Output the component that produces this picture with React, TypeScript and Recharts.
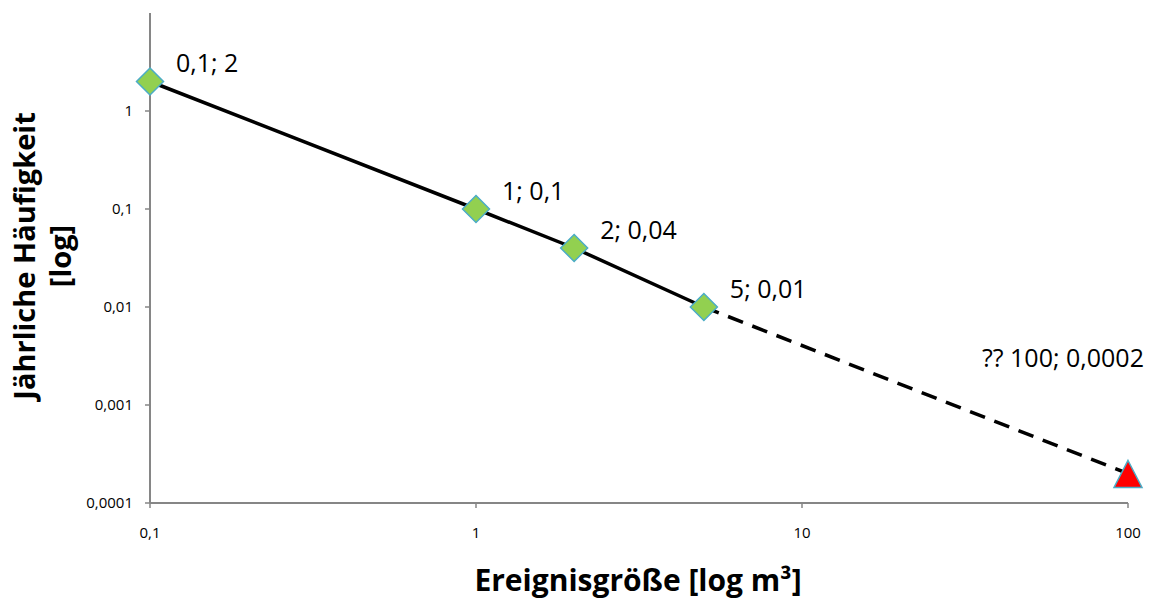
import { Label, Scatter, ScatterChart, XAxis, YAxis } from "recharts";

// Ereignisgröße [m³] vs. jährliche Häufigkeit
const sizes = [0.1, 1, 2, 5];
const freqs = [2, 0.1, 0.04, 0.01];
const trendSizes = [5, 100];
const trendFreqs = [0.01, 0.0002];
const xTicks = [0.1, 1, 10, 100];
const yTicks = [0.0001, 0.001, 0.01, 0.1, 1];

const FONT = "'Open Sans', sans-serif";
const AXIS = "#868686";

const de = (v: number) => String(v).replace(".", ",");

const known = sizes.map((x, i) => ({ x, y: freqs[i] }));
const trend = trendSizes.map((x, i) => ({ x, y: trendFreqs[i], estimate: i === trendSizes.length - 1 }));

const Diamond = (props: any) => {
  const { cx, cy, payload } = props;
  const r = 13.5;
  return (
    <g>
      <polygon
        points={`${cx},${cy - r} ${cx + r},${cy} ${cx},${cy + r} ${cx - r},${cy}`}
        fill="#92D050"
        stroke="#4BACC6"
        strokeWidth={1.5}
      />
      <text x={cx + 26} y={cy - 19} dominantBaseline="central" fontFamily={FONT} fontSize={25} fill="#000">
        {`${de(payload.x)}; ${de(payload.y)}`}
      </text>
    </g>
  );
};

const Triangle = (props: any) => {
  const { cx, cy, payload } = props;
  if (!payload.estimate) return <g />;
  return (
    <g>
      <polygon
        points={`${cx},${cy - 13} ${cx + 14},${cy + 14} ${cx - 14},${cy + 14}`}
        fill="#FF0000"
        stroke="#4BACC6"
        strokeWidth={1.5}
      />
      <text x={cx - 146} y={cy - 116} dominantBaseline="central" fontFamily={FONT} fontSize={25} fill="#000">
        {`?? ${de(payload.x)}; ${de(payload.y)}`}
      </text>
    </g>
  );
};

export default function App() {
  return (
    <div style={{ position: "absolute", left: 0, top: 0, background: "#fff" }}>
      <ScatterChart width={1155} height={598} margin={{ top: 13, right: 27, left: 0, bottom: 0 }}>
        <XAxis
          type="number"
          dataKey="x"
          scale="log"
          domain={[0.1, 100]}
          ticks={xTicks}
          height={95}
          axisLine={{ stroke: AXIS, strokeWidth: 2 }}
          tickLine={{ stroke: AXIS, strokeWidth: 1.5 }}
          tickSize={5}
          tickMargin={19}
          tickFormatter={de}
          tick={{ fill: "#000", fontSize: 15, fontFamily: FONT }}
        >
          <Label
            content={() => (
              <text x={638} y={579} textAnchor="middle" dominantBaseline="central" fontFamily={FONT} fontWeight="bold" fontSize={30} fill="#000">
                Ereignisgröße [log m³]
              </text>
            )}
          />
        </XAxis>
        <YAxis
          type="number"
          dataKey="y"
          scale="log"
          domain={[0.0001, 10]}
          ticks={yTicks}
          width={150}
          axisLine={{ stroke: AXIS, strokeWidth: 2 }}
          tickLine={{ stroke: AXIS, strokeWidth: 1.5 }}
          tickSize={5}
          tickMargin={12}
          tickFormatter={de}
          tick={{ fill: "#000", fontSize: 15, fontFamily: FONT }}
        >
          <Label
            content={() => (
              <text transform="translate(25,256) rotate(-90)" textAnchor="middle" fontFamily={FONT} fontWeight="bold" fontSize={29} fill="#000">
                <tspan x={0} dy="0.35em">Jährliche Häufigkeit</tspan>
                <tspan x={0} dy="1.25em">[log]</tspan>
              </text>
            )}
          />
        </YAxis>
        <Scatter
          data={trend}
          line={{ stroke: "#000", strokeWidth: 3.5, strokeDasharray: "16 10" }}
          lineType="joint"
          shape={Triangle}
          isAnimationActive={false}
        />
        <Scatter
          data={known}
          line={{ stroke: "#000", strokeWidth: 3.5 }}
          lineType="joint"
          shape={Diamond}
          isAnimationActive={false}
        />
      </ScatterChart>
    </div>
  );
}
